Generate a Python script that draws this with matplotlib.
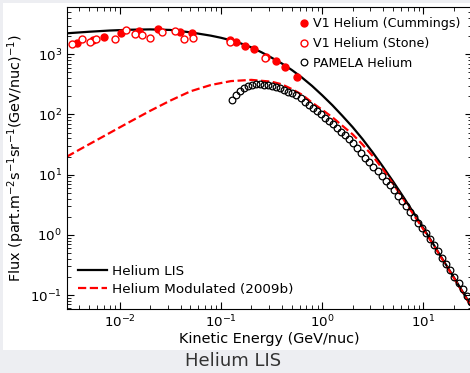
import numpy as np
import matplotlib
matplotlib.use("Agg")
import matplotlib.pyplot as plt
from matplotlib.patches import Rectangle

# Helium LIS model (GeV/nuc, flux)
lis_e = [0.003, 0.00501, 0.00794, 0.0126, 0.02, 0.0316, 0.0501, 0.0794, 0.1, 0.126,
         0.158, 0.2, 0.251, 0.316, 0.398, 0.501, 0.631, 0.794, 1.0, 1.26,
         1.58, 2.0, 2.51, 3.16, 3.98, 5.01, 6.31, 7.94, 10.0, 12.6,
         15.8, 20.0, 25.1, 30.2]
lis_f = [2233, 2371, 2483, 2559, 2594, 2541, 2317, 2042, 1884, 1706,
         1514, 1303, 1084, 881, 708, 550, 412, 299, 209, 143,
         95.5, 61.7, 38.9, 23.4, 13.6, 7.76, 4.32, 2.37, 1.29, 0.692,
         0.372, 0.197, 0.105, 0.063]

# Modulated spectrum (2009b)
mod_e = [0.003, 0.00501, 0.00794, 0.0126, 0.02, 0.0316, 0.0501, 0.0794, 0.126, 0.2,
         0.316, 0.398, 0.501, 0.631, 0.794, 1.0, 1.26, 1.58, 2.0, 2.51,
         3.16, 3.98, 5.01, 6.31, 7.94, 10.0, 12.6, 15.8, 20.0, 25.1, 30.2]
mod_f = [19.9, 32.1, 49.2, 75.5, 115, 170, 243, 309, 359, 376,
         351, 318, 265, 214, 158, 120, 90.2, 65.3, 46.8, 31.6,
         20.4, 12.3, 7.08, 3.98, 2.21, 1.23, 0.676, 0.363, 0.193, 0.102, 0.0617]

# Voyager 1 (Cummings)
cum_e = [0.0038, 0.00547, 0.00698, 0.01035, 0.01548, 0.0241, 0.0391, 0.0524,
         0.122, 0.142, 0.1714, 0.2143, 0.2773, 0.352, 0.4335, 0.5675]
cum_f = [1524, 1750, 1960, 2233, 2467, 2603, 2367, 2233,
         1742, 1581, 1389, 1211, 912, 780, 608, 420]

# Voyager 1 (Stone)
stone_e = [0.00339, 0.00422, 0.00505, 0.00582, 0.00907, 0.01159, 0.01412, 0.01667,
           0.0201, 0.0262, 0.0351, 0.0437, 0.0528, 0.1239, 0.274]
stone_f = [1472, 1794, 1589, 1807, 1774, 2553, 2173, 2109,
           1902, 2328, 2438, 1815, 1902, 1618, 879]

# PAMELA helium
pam_e = [0.128, 0.140, 0.154, 0.169, 0.185, 0.203, 0.222, 0.244, 0.267, 0.293,
         0.321, 0.352, 0.386, 0.424, 0.465, 0.509, 0.558, 0.612, 0.671, 0.736,
         0.807, 0.885, 0.971, 1.064, 1.167, 1.279, 1.403, 1.538, 1.687, 1.849,
         2.028, 2.223, 2.438, 2.673, 2.931, 3.214, 3.524, 3.864, 4.236, 4.645,
         5.093, 5.585, 6.124, 6.714, 7.362, 8.072, 8.851, 9.705, 10.64, 11.67,
         12.79, 14.03, 15.38, 16.87, 18.49, 20.28, 22.23, 24.38, 26.73, 29.31]
pam_f = [174, 214, 248, 279, 299, 311, 318, 318, 314, 307,
         296, 285, 272, 257, 240, 224, 207, 186, 163, 145,
         128, 114, 100, 89, 79, 69, 60, 52, 45, 39,
         33, 27.4, 22.9, 19.1, 16.1, 13.5, 11.4, 9.5, 7.9, 6.65,
         5.55, 4.5, 3.66, 2.98, 2.42, 1.97, 1.60, 1.30, 1.06, 0.87,
         0.68, 0.54, 0.42, 0.33, 0.26, 0.20, 0.16, 0.125, 0.098, 0.077]

W, H = 470, 373
fig = plt.figure(figsize=(W / 100, H / 100), dpi=100, facecolor="#edeef2")
fig.patches.append(Rectangle((3 / W, 23 / H), 1, 1 - 26 / H, transform=fig.transFigure,
                             facecolor="white", edgecolor="none", zorder=-10))
fig.text(233 / W, 11.5 / H, "Helium LIS", ha="center", va="center", fontsize=13, color="#333333")

ax = fig.add_axes([66.7 / W, 63.7 / H, 405 / W, 302 / H])
ax.set_xscale("log")
ax.set_yscale("log")

l1, = ax.plot(lis_e, lis_f, color="black", lw=1.6, label="Helium LIS")
l2, = ax.plot(mod_e, mod_f, color="red", lw=1.6, ls="--", label="Helium Modulated (2009b)")
p1, = ax.plot(cum_e, cum_f, "o", color="red", ms=5, ls="none", label="V1 Helium (Cummings)")
p2, = ax.plot(stone_e, stone_f, "o", mfc="white", mec="red", mew=1, ms=5, ls="none",
              label="V1 Helium (Stone)")
p3, = ax.plot(pam_e, pam_f, "o", mfc="none", mec="black", mew=0.9, ms=4.8, ls="none",
              label="PAMELA Helium")

ax.set_xlim(3e-3, 30)
ax.set_ylim(0.058, 6040)
ax.set_xlabel("Kinetic Energy (GeV/nuc)", fontsize=10.4, labelpad=1)
ax.set_ylabel("Flux (part.m$^{-2}$s$^{-1}$sr$^{-1}$(GeV/nuc)$^{-1}$)", fontsize=10.4, labelpad=2)
ax.tick_params(which="both", direction="in", top=True, right=True, labelsize=9.6)
ax.tick_params(which="major", length=5)
ax.tick_params(which="minor", length=3)

# legends placed in figure pixel coordinates
leg1 = ax.legend(handles=[p1, p2, p3], loc="upper left", frameon=False, fontsize=9.05,
                 handlelength=0.6, handletextpad=0.41, borderpad=0, borderaxespad=0,
                 labelspacing=0.52,
                 bbox_to_anchor=(300.2 / W, (H - 17.5) / H), bbox_transform=fig.transFigure)
ax.add_artist(leg1)
ax.legend(handles=[l1, l2], loc="lower left", frameon=False, fontsize=9.7,
          handlelength=2.15, handletextpad=0.39, borderpad=0, borderaxespad=0,
          labelspacing=0.42,
          bbox_to_anchor=(78 / W, 76.8 / H), bbox_transform=fig.transFigure)

fig.savefig("out.png", dpi=100, facecolor=fig.get_facecolor())
